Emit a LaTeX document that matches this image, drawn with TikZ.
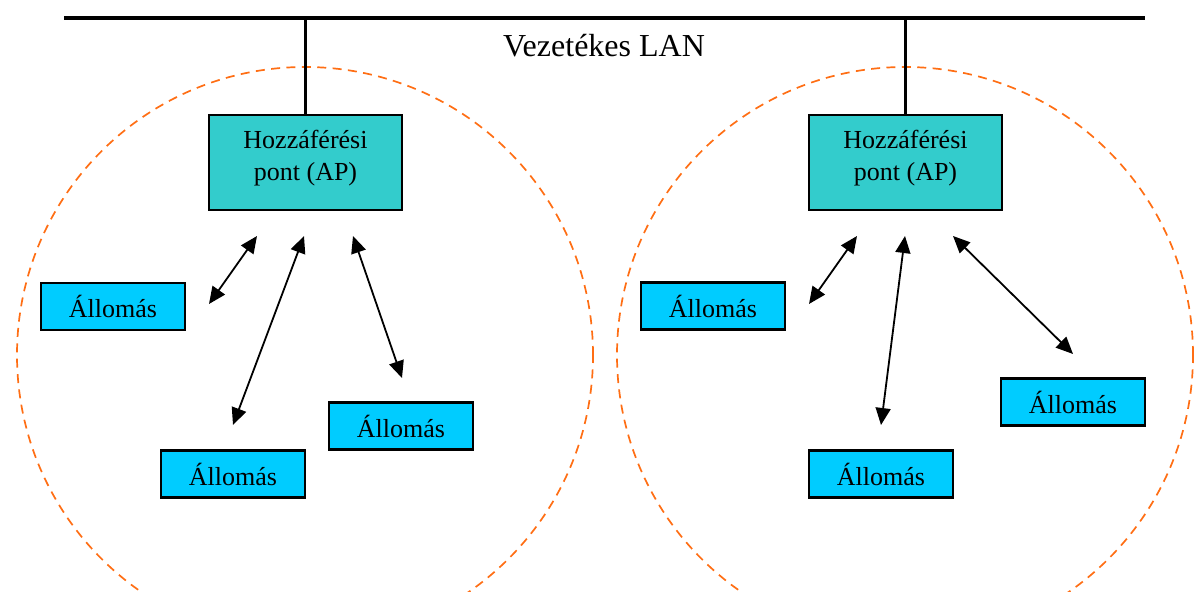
\documentclass[tikz,border=0pt]{standalone}
\usepackage{fontspec}
\setmainfont{Liberation Serif}
\usetikzlibrary{arrows.meta}
\definecolor{apfill}{RGB}{51,204,204}
\definecolor{stafill}{RGB}{0,204,255}
\definecolor{cellorange}{RGB}{255,110,20}
\tikzset{
  bus/.style={line width=2.2pt, line cap=rect},
  drop/.style={line width=1.7pt},
  cell/.style={draw=cellorange, line width=0.85pt, dash pattern=on 4.5pt off 3.2pt},
  apbox/.style={draw=black, line width=1.1pt, fill=apfill, rectangle,
    minimum width=96.5pt, minimum height=47.5pt, inner sep=0pt},
  aptext/.style={align=center, font=\fontsize{13}{16}\selectfont, inner sep=0pt},
  stabox/.style={draw=black, line width=1.1pt, fill=stafill, rectangle,
    minimum width=72pt, minimum height=23.5pt, inner sep=0pt,
    font=\fontsize{13}{16}\selectfont},
  link/.style={line width=0.9pt, {Triangle[length=8.5pt,width=7.5pt]}-{Triangle[length=8.5pt,width=7.5pt]}}
}
\begin{document}
\begin{tikzpicture}[x=0.5pt,y=-0.5pt]
\useasboundingbox (0,0) rectangle (1194,592);

% radio cells
\draw[cell] (305,355) circle [radius=144pt];
\draw[cell] (905,355) circle [radius=144pt];

% wired backbone
\coordinate (busL) at (66,18);
\coordinate (busR) at (1143,18);
\coordinate (tap1) at (305.5,18);
\coordinate (tap2) at (905.5,18);
\draw[bus] (busL) -- (busR);
\node[font=\fontsize{16}{19}\selectfont, inner sep=0pt] (lan) at (604,46) {Vezetékes LAN};

% access points
\node[apbox] (ap1) at (305.5,162.5) {};
\node[aptext] (ap1t) at (305.5,158) {Hozzáférési\\pont (AP)};
\node[apbox] (ap2) at (905.5,162.5) {};
\node[aptext] (ap2t) at (905.5,158) {Hozzáférési\\pont (AP)};
\draw[drop] (tap1) -- (ap1.north);
\draw[drop] (tap2) -- (ap2.north);

% stations, left cell
\node[stabox] (s1) at (113,306.5) {Állomás};
\node[stabox] (s2) at (233,474) {Állomás};
\node[stabox] (s3) at (401,426) {Állomás};
% stations, right cell
\node[stabox] (s4) at (713,306) {Állomás};
\node[stabox] (s5) at (881,474) {Állomás};
\node[stabox] (s6) at (1073,402) {Állomás};

% wireless links, left cell
\coordinate (a1t) at (257,236); \coordinate (a1b) at (209,304);
\coordinate (a2t) at (304,236); \coordinate (a2b) at (233,425);
\coordinate (a3t) at (353,236); \coordinate (a3b) at (402,378);
\draw[link] (a1t) -- (a1b);
\draw[link] (a2t) -- (a2b);
\draw[link] (a3t) -- (a3b);
% wireless links, right cell
\coordinate (b1t) at (857,236); \coordinate (b1b) at (809,304);
\coordinate (b2t) at (905,236); \coordinate (b2b) at (881,425);
\coordinate (b3t) at (953,236); \coordinate (b3b) at (1073,354);
\draw[link] (b1t) -- (b1b);
\draw[link] (b2t) -- (b2b);
\draw[link] (b3t) -- (b3b);
\end{tikzpicture}
\end{document}
